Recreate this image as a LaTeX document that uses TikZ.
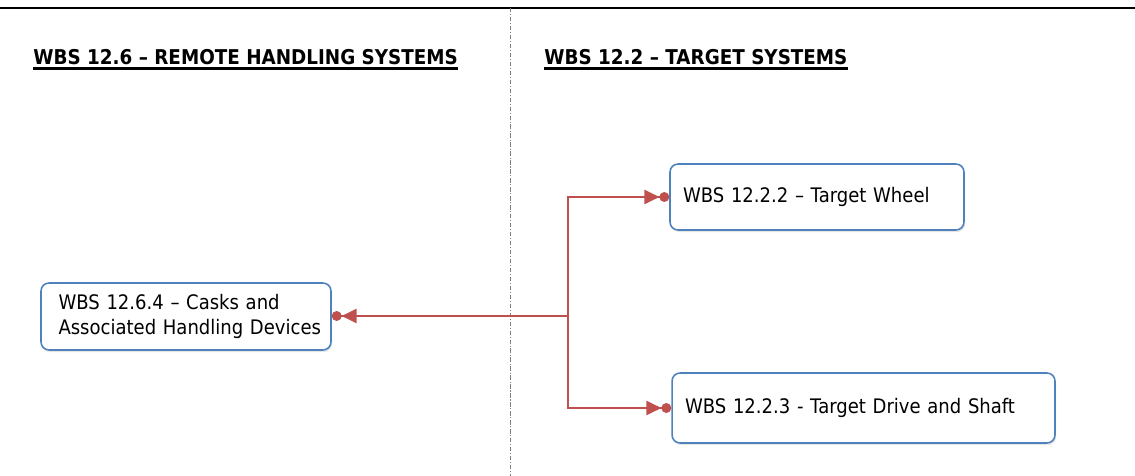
\documentclass[tikz,border=0pt]{standalone}
\usepackage{fontspec}
\setmainfont{DejaVu Sans}[FakeStretch=0.9]
\usetikzlibrary{arrows.meta,shadows}
\definecolor{boxblue}{RGB}{79,129,189}
\definecolor{linkred}{RGB}{192,80,77}
\tikzset{
  wbsbox/.style={draw=boxblue, line width=0.9pt, rounded corners=0.16cm, fill=white,
    align=left, drop shadow={opacity=0.2, shadow xshift=0.6pt, shadow yshift=-1.2pt},
    font=\fontsize{11.4}{14.2}\selectfont},
  link/.style={draw=linkred, line width=1.1pt,
    -{Triangle[length=8.5pt,width=8pt,fill=linkred]Circle[length=5.6pt,fill=linkred]}},
  heading/.style={font=\bfseries\fontsize{11.6}{14}\selectfont, inner sep=0pt, anchor=base west},
}
\begin{document}
\begin{tikzpicture}[x=0.02cm, y=-0.02cm]
\useasboundingbox (0,0) rectangle (1135,476);

\draw[line width=0.6pt] (0,8) -- (1135,8);
\draw[gray, line width=0.5pt, dash pattern=on 2.5pt off 1pt on 0.6pt off 1pt] (510,8) -- (510,476);

\node[heading] (rhs) at (33,65) {WBS 12.6 – REMOTE HANDLING SYSTEMS};
\node[heading] (tgs) at (544,65) {WBS 12.2 – TARGET SYSTEMS};
\draw[line width=1.2pt] ([yshift=-2pt]rhs.base west) -- ([yshift=-2pt]rhs.base east);
\draw[line width=1.2pt] ([yshift=-2pt]tgs.base west) -- ([yshift=-2pt]tgs.base east);

\node[wbsbox, minimum width=5.8cm, minimum height=1.34cm, inner xsep=0.3cm, text width=5.1cm]
  (casks) at (186,316.5) {WBS 12.6.4 – Casks and\\\mbox{Associated Handling Devices}};
\node[wbsbox, minimum width=5.88cm, minimum height=1.32cm, inner xsep=0.26cm, text width=5.36cm]
  (wheel) at (817,197) {WBS 12.2.2 – Target Wheel};
\node[wbsbox, minimum width=7.66cm, minimum height=1.4cm, inner xsep=0.26cm, text width=7.14cm]
  (drive) at (863.5,408) {WBS 12.2.3 - Target Drive and Shaft};

\coordinate (fork) at (568,316);
\draw[link] (fork) -- (fork -| casks.east);
\draw[link] (fork) |- (wheel.west);
\draw[link] (fork) |- (drive.west);

\end{tikzpicture}
\end{document}
